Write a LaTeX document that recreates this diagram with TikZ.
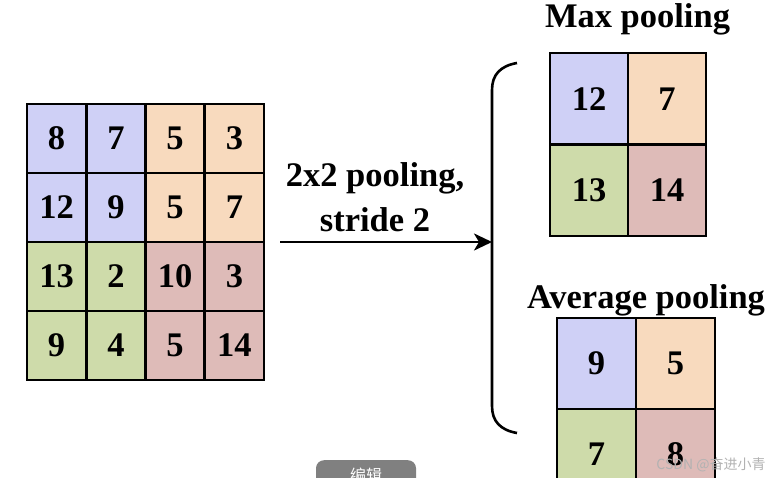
\documentclass[tikz,border=0pt]{standalone}
\usepackage{fontspec}
\setmainfont{Liberation Serif}
\newfontfamily\cjkfont{Noto Sans CJK SC}
\usetikzlibrary{arrows.meta}
\definecolor{cellblue}{RGB}{207,208,246}
\definecolor{cellpeach}{RGB}{248,218,190}
\definecolor{cellgreen}{RGB}{206,219,170}
\definecolor{cellrose}{RGB}{222,187,184}
\definecolor{btngray}{RGB}{128,128,128}
\begin{document}
\begin{tikzpicture}[x=1pt,y=-1pt,
    txt/.style={font=\fontsize{34.5}{40}\selectfont\bfseries},
    cell/.style={txt,draw,line width=2.6pt,inner sep=0pt},
    incell/.style={cell,minimum width=59.25pt,minimum height=69pt},
    maxcell/.style={cell,minimum width=78pt,minimum height=91.5pt},
    avgcell/.style={cell,minimum width=79pt,minimum height=91pt},
    flow/.style={line width=2.6pt,-{Stealth[length=18pt,width=17pt,inset=5pt]}}]

                    \useasboundingbox (0,0) rectangle (775,478);
                    \clip (0,0) rectangle (775,478);

                    % input 4x4
                    \node (a11) at (56.6,138.5) [incell,fill=cellblue] {8};
                    \node (a12) at (115.9,138.5) [incell,fill=cellblue] {7};
                    \node (a13) at (175.1,138.5) [incell,fill=cellpeach] {5};
                    \node (a14) at (234.4,138.5) [incell,fill=cellpeach] {3};
                    \node (a21) at (56.6,207.5) [incell,fill=cellblue] {12};
                    \node (a22) at (115.9,207.5) [incell,fill=cellblue] {9};
                    \node (a23) at (175.1,207.5) [incell,fill=cellpeach] {5};
                    \node (a24) at (234.4,207.5) [incell,fill=cellpeach] {7};
                    \node (a31) at (56.6,276.5) [incell,fill=cellgreen] {13};
                    \node (a32) at (115.9,276.5) [incell,fill=cellgreen] {2};
                    \node (a33) at (175.1,276.5) [incell,fill=cellrose] {10};
                    \node (a34) at (234.4,276.5) [incell,fill=cellrose] {3};
                    \node (a41) at (56.6,345.5) [incell,fill=cellgreen] {9};
                    \node (a42) at (115.9,345.5) [incell,fill=cellgreen] {4};
                    \node (a43) at (175.1,345.5) [incell,fill=cellrose] {5};
                    \node (a44) at (234.4,345.5) [incell,fill=cellrose] {14};

                    % arrow and its label
                    \coordinate (start) at (280,242);
                    \coordinate (bracemid) at (492,242);
                    \node (lab1) at (375,187) [txt,anchor=base] {2x2 pooling,};
                    \node (lab2) at (375,231) [txt,anchor=base] {stride 2};
                    \draw[flow] (start) -- (bracemid);

                    % brace
                    \draw[line width=2.6pt]
                        (517,63) .. controls (500,66) and (492,75) .. (492,90)
                        -- (492,406) .. controls (492,421) and (500,430) .. (517,433)
                    ;

                    % max pooling
                    \node (maxtitle) at (637.5,28) [txt,anchor=base] {Max pooling};
                    \node (m11) at (589,98.75) [maxcell,fill=cellblue] {12};
                    \node (m12) at (667,98.75) [maxcell,fill=cellpeach] {7};
                    \node (m21) at (589,190.25) [maxcell,fill=cellgreen] {13};
                    \node (m22) at (667,190.25) [maxcell,fill=cellrose] {14};

                    % average pooling
                    \node (avgtitle) at (646,308) [txt,anchor=base] {Average pooling};
                    \node (v11) at (596.5,363.5) [avgcell,fill=cellblue] {9};
                    \node (v12) at (675.5,363.5) [avgcell,fill=cellpeach] {5};
                    \node (v21) at (596.5,454.5) [avgcell,fill=cellgreen] {7};
                    \node (v22) at (675.5,454.5) [avgcell,fill=cellrose] {8};

                    % page overlays
                    \node (edit) at (366,475) [fill=btngray,rounded corners=8pt,minimum width=100pt,minimum height=30pt,anchor=north,yshift=15pt,text=white,font=\cjkfont\fontsize{16}{16}\selectfont] {编辑};
                    \node (mark) at (711,465) [text=black!30,font=\cjkfont\fontsize{14}{14}\selectfont] {CSDN @奋进小青};
                \end{tikzpicture}
\end{document}
